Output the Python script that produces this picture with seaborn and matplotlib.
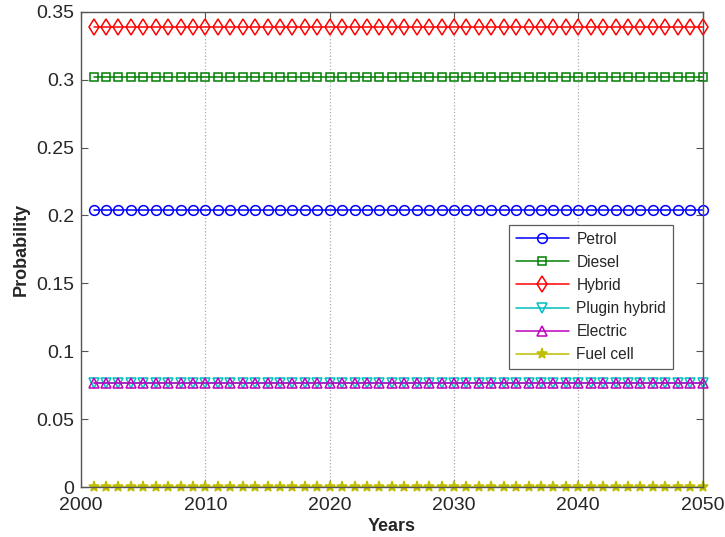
import numpy as np
import pandas as pd
import matplotlib
matplotlib.use("Agg")
import matplotlib.pyplot as plt
import seaborn as sns

years = list(range(2001, 2051))
series_names = ["Petrol", "Diesel", "Hybrid", "Plugin hybrid", "Electric", "Fuel cell"]
petrol = [0.204] * len(years)
diesel = [0.302] * len(years)
hybrid = [0.339] * len(years)
plugin_hybrid = [0.077] * len(years)
electric = [0.077] * len(years)
fuel_cell = [0.0] * len(years)
values = [petrol, diesel, hybrid, plugin_hybrid, electric, fuel_cell]

colors = ["#0000ff", "#008000", "#ff0000", "#00bfbf", "#bf00bf", "#bfbf00"]
markers = ["o", "s", "d", "v", "^", "*"]
msizes = [7, 6, 8.5, 7, 7, 8]

sns.set_style("ticks")
plt.rcParams["font.family"] = ["Liberation Sans", "DejaVu Sans"]

fig = plt.figure(figsize=(7.25, 5.37), dpi=100)
ax = fig.add_axes([0.112, 0.093, 0.857, 0.885])

for name, vals, c, m, ms in zip(series_names, values, colors, markers, msizes):
    df = pd.DataFrame({"Years": years, "Probability": vals})
    filled = m == "*"
    sns.lineplot(data=df, x="Years", y="Probability", ax=ax, color=c, marker=m,
                 markersize=ms, markerfacecolor=c if filled else "none",
                 markeredgecolor=c, markeredgewidth=1.1, linewidth=1.1,
                 label=name, clip_on=False)

ax.set_xlim(2000, 2050)
ax.set_ylim(0, 0.35)
ax.set_xticks([2000, 2010, 2020, 2030, 2040, 2050])
ax.set_yticks([0, 0.05, 0.1, 0.15, 0.2, 0.25, 0.3, 0.35])
ax.set_yticklabels(["0", "0.05", "0.1", "0.15", "0.2", "0.25", "0.3", "0.35"])
ax.xaxis.grid(True, linestyle=":", color="#aaaaaa", linewidth=0.9)
ax.yaxis.grid(False)
ax.tick_params(direction="in", labelsize=14, length=5, color="#555555",
               top=True, right=True)
ax.tick_params(axis="x", pad=7)
ax.tick_params(axis="y", pad=5)
for s in ax.spines.values():
    s.set_color("#555555")
    s.set_linewidth(1.0)
    s.set_visible(True)
ax.set_xlabel("Years", fontsize=13, fontweight="bold", labelpad=3)
ax.set_ylabel("Probability", fontsize=13, fontweight="bold", labelpad=5)

leg = ax.legend(loc="upper left", bbox_to_anchor=(0.688, 0.552), fontsize=11.2,
                frameon=True, fancybox=False, edgecolor="#333333",
                borderaxespad=0, handlelength=3.4, handletextpad=0.5,
                labelspacing=0.52, borderpad=0.45)
leg.get_frame().set_linewidth(0.9)

fig.savefig("out.png", dpi=100)
